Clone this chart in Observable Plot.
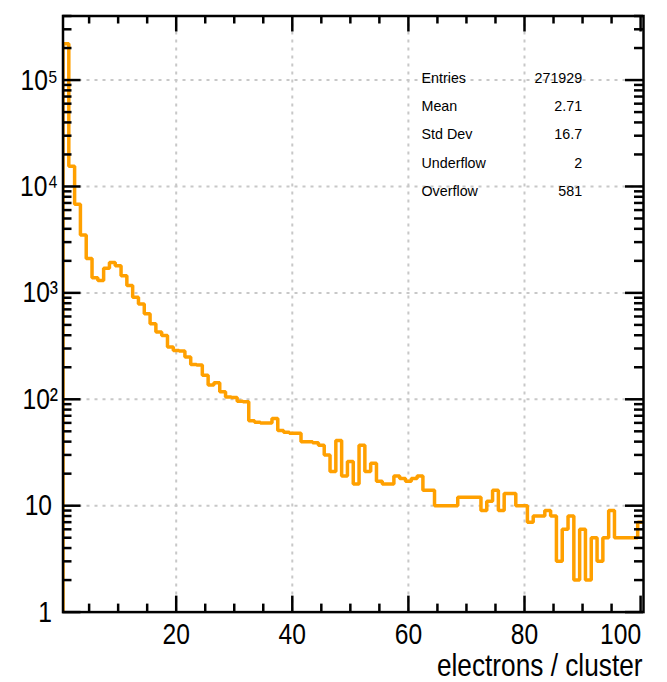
<!DOCTYPE html>
<html><head><meta charset="utf-8">
<script src="https://cdn.jsdelivr.net/npm/d3@7"></script>
<script src="https://cdn.jsdelivr.net/npm/@observablehq/plot@0.6"></script>
<style>
html,body{margin:0;padding:0;background:#fff;}
svg{display:block;}
</style>
</head><body><div id="chart"></div>
<script>
// ---- data ----
const binLow = 0.5;
const binWidth = 1;
const counts = [
  220000, 15500, 6800, 3500, 2100, 1390, 1310, 1700, 1930, 1800,
  1450, 1170, 910, 785, 637, 513, 428, 398, 310, 288,
  285, 250, 212, 210, 168, 136, 143, 118, 105, 104,
  96, 95, 63, 61, 60, 60, 66, 51, 49, 48,
  48, 40, 40, 39, 37, 30, 21, 41, 19, 26,
  16, 37, 21, 25, 17, 16, 16, 19, 18, 17,
  18, 19, 14, 14, 10, 10, 10, 10, 12, 12,
  12, 12, 9, 11, 14, 9, 13, 13, 10, 10,
  7, 8, 8, 9, 8, 3, 6, 8, 2, 6,
  2, 5, 3, 5, 9, 5, 5, 5, 5, 7
];
const xDomain = [0.5, 100.5];
const yDomain = [1, 4e5];
const xMajorTicks = [20, 40, 60, 80, 100];
const xMinorTicks = [5, 10, 15, 25, 30, 35, 45, 50, 55, 65, 70, 75, 85, 90, 95];
const yMajorTicks = [1, 10, 100, 1000, 10000, 100000];
const yTickLabels = ["1", "10", "10²", "10³", "10⁴", "10⁵"];
const yMinorTicks = [];
for (const d of [1, 10, 100, 1000, 10000, 100000]) for (let m = 2; m <= 9; m++) if (d * m <= yDomain[1]) yMinorTicks.push(d * m);
const xGrid = [20, 40, 60, 80];
const yGrid = [10, 100, 1000, 10000, 100000];
const statsLabels = ["Entries", "Mean", "Std Dev", "Underflow", "Overflow"];
const statsValues = ["271929", "2.71", "16.7", "2", "581"];
const xTitle = "electrons / cluster";

// ---- layout / style ----
const W = 667, H = 682;
const mL = 62.5, mR = 24, mT = 15.5, mB = 70.4;
const innerW = W - mL - mR, innerH = H - mT - mB;
const narrowFont = "'Liberation Sans',Arial,Helvetica,sans-serif";
const sans = "'Liberation Sans',Arial,Helvetica,sans-serif";
const orange = "#ffa000";
const gridStyle = {stroke: "#c8c8c8", strokeWidth: 2, strokeDasharray: "3,5"};
const majLen = 18, minLen = 9, xMajLen = 16, xMinLen = 8;
const condense = 0.82;

const pts = [{x: binLow, y: yDomain[0]}];
counts.forEach((c, i) => pts.push({x: binLow + i * binWidth, y: c}));
pts.push({x: binLow + counts.length * binWidth, y: counts[counts.length - 1]});

const yLab = yMajorTicks.map((v, i) => ({v, label: yTickLabels[i]}));

const tickStyle = {stroke: "black", strokeWidth: 2.5};
const bigText = {fontSize: 30, fontFamily: narrowFont, fill: "black"};

const chart = Plot.plot({
  width: W, height: H,
  marginLeft: mL, marginRight: mR, marginTop: mT, marginBottom: mB,
  x: {domain: xDomain, axis: null},
  y: {type: "log", domain: yDomain, axis: null},
  style: {background: "white", fontFamily: sans},
  marks: [
    Plot.ruleX(xGrid, {x: d => d, ...gridStyle}),
    Plot.ruleY(yGrid, {y: d => d, ...gridStyle}),
    Plot.line(pts, {x: "x", y: "y", curve: "step-after", stroke: orange, strokeWidth: 3.5, strokeLinejoin: "miter", clip: true}),
    // x ticks bottom & top
    Plot.tickX(xMajorTicks, {x: d => d, ...tickStyle, insetTop: innerH - xMajLen}),
    Plot.tickX(xMajorTicks, {x: d => d, ...tickStyle, insetBottom: innerH - xMajLen}),
    Plot.tickX(xMinorTicks, {x: d => d, ...tickStyle, insetTop: innerH - xMinLen}),
    Plot.tickX(xMinorTicks, {x: d => d, ...tickStyle, insetBottom: innerH - xMinLen}),
    // y ticks left & right
    Plot.tickY(yMajorTicks, {y: d => d, ...tickStyle, insetRight: innerW - majLen}),
    Plot.tickY(yMajorTicks, {y: d => d, ...tickStyle, insetLeft: innerW - majLen}),
    Plot.tickY(yMinorTicks, {y: d => d, ...tickStyle, insetRight: innerW - minLen}),
    Plot.tickY(yMinorTicks, {y: d => d, ...tickStyle, insetLeft: innerW - minLen}),
    Plot.frame({stroke: "black", strokeWidth: 2.5}),
    // y tick labels
    Plot.text(yLab.filter(d => d.v < 100), {y: "v", text: "label", frameAnchor: "left", textAnchor: "end", lineAnchor: "middle", dx: -11, ...bigText, fontVariant: "condense"}),
    Plot.text(yLab.filter(d => d.v >= 100), {y: "v", text: "label", frameAnchor: "left", textAnchor: "end", lineAnchor: "middle", dx: -5, ...bigText, fontVariant: "condense"}),
    // x tick labels
    Plot.text(xMajorTicks.filter(d => d < 100), {x: d => d, text: d => String(d), frameAnchor: "bottom", lineAnchor: "top", dy: 10.5, ...bigText, fontVariant: "condense"}),
    Plot.text(xMajorTicks.filter(d => d >= 100), {x: d => d, text: d => String(d), frameAnchor: "bottom", lineAnchor: "top", dy: 10.5, dx: -20, ...bigText, fontVariant: "condense"}),
    // x title
    Plot.text([xTitle], {frameAnchor: "bottom-right", textAnchor: "end", lineAnchor: "bottom", dy: 64, dx: -1, ...bigText, fontSize: 32, fontVariant: "condense"}),
    // stats box
    ...statsLabels.map((t, i) => Plot.text([t], {frameAnchor: "top-left", textAnchor: "start", lineAnchor: "bottom", dx: 358.5, dy: 67.2 + i * 28.1, fontSize: 14.3, fontFamily: sans, fill: "black"})),
    ...statsValues.map((t, i) => Plot.text([t], {frameAnchor: "top-left", textAnchor: "end", lineAnchor: "bottom", dx: 519.2, dy: 67.2 + i * 28.1, fontSize: 14.3, fontFamily: sans, fill: "black"}))
  ]
});

// Horizontally condense the large axis texts (narrow Helvetica look of the original)
d3.select(chart).selectAll("g[font-variant='condense']").each(function () {
  this.removeAttribute("font-variant");
  d3.select(this).selectAll("text").each(function () {
    const t = this.getAttribute("transform");
    if (t) {
      this.setAttribute("transform", t + ` scale(${condense},1)`);
    } else {
      const x = +(this.getAttribute("x") || 0), y = +(this.getAttribute("y") || 0);
      this.removeAttribute("x"); this.removeAttribute("y");
      this.setAttribute("transform", `translate(${x},${y}) scale(${condense},1)`);
    }
  });
});
document.getElementById("chart").appendChild(chart);
</script>
</body></html>
